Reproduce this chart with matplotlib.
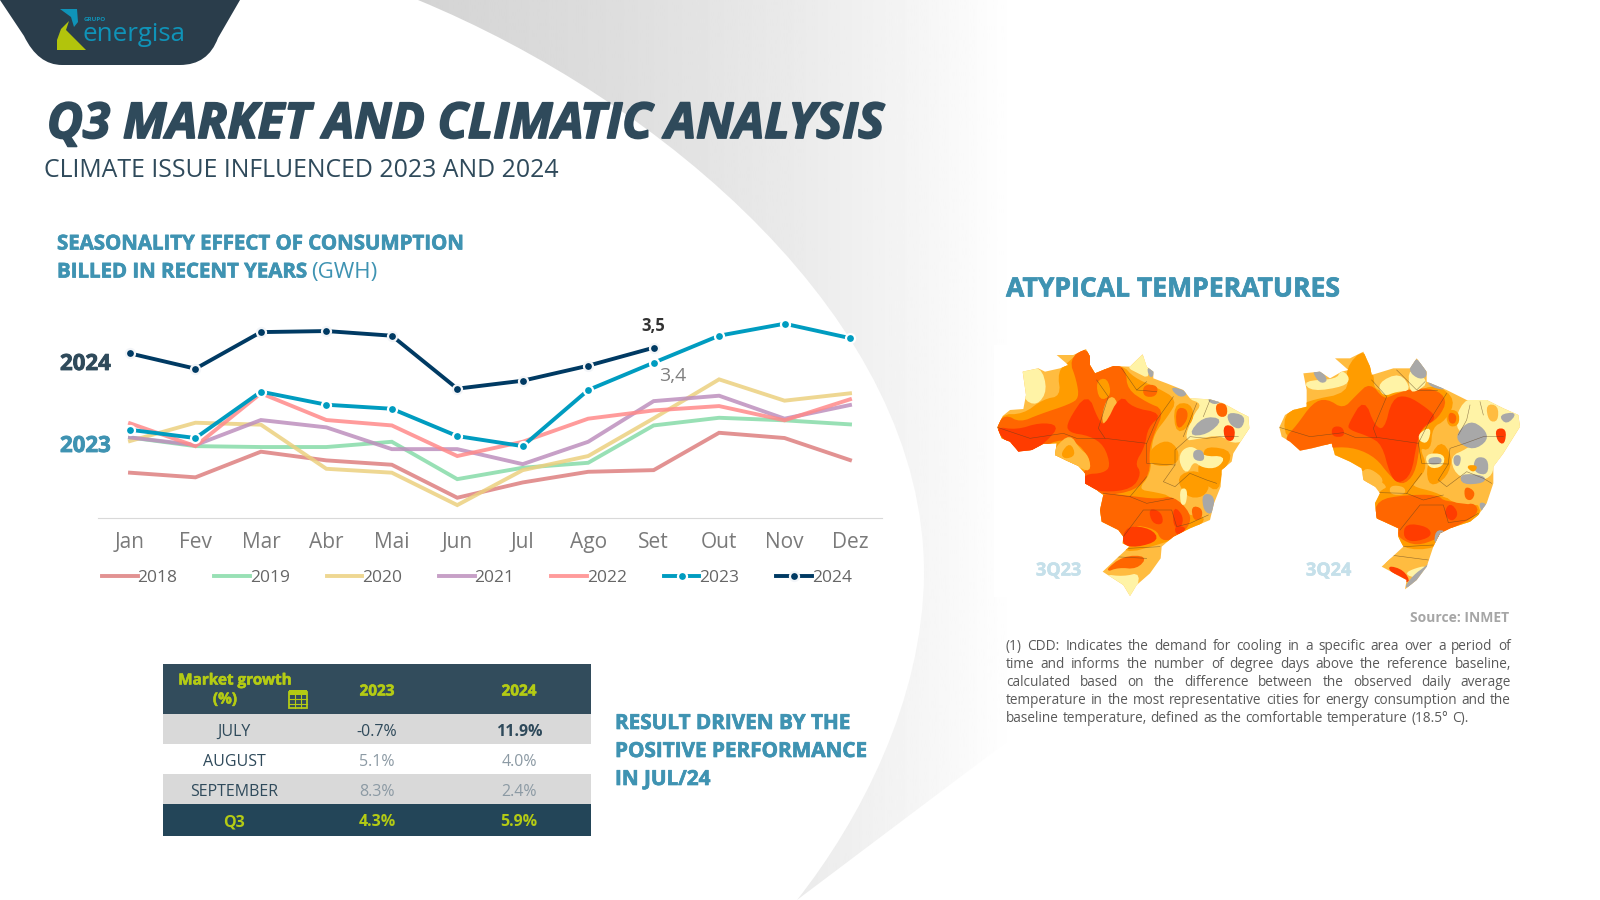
import matplotlib
matplotlib.use('Agg')
import numpy as np
import matplotlib.pyplot as plt
import matplotlib.patheffects as pe
from matplotlib.path import Path
from matplotlib.patches import PathPatch, Polygon, Rectangle

plt.rcParams['font.family'] = ['Open Sans', 'DejaVu Sans']

months = ['Jan', 'Fev', 'Mar', 'Abr', 'Mai', 'Jun', 'Jul', 'Ago', 'Set', 'Out', 'Nov', 'Dez']
y2018 = [2.667, 2.636, 2.807, 2.749, 2.72, 2.5, 2.602, 2.673, 2.684, 2.933, 2.898, 2.751]
y2019 = [2.902, 2.844, 2.838, 2.838, 2.873, 2.624, 2.7, 2.733, 2.982, 3.033, 3.016, 2.989]
y2020 = [2.878, 3.0, 2.987, 2.693, 2.667, 2.451, 2.684, 2.778, 3.029, 3.289, 3.147, 3.196]
y2021 = [2.902, 2.851, 3.018, 2.969, 2.824, 2.824, 2.724, 2.873, 3.144, 3.18, 3.027, 3.118]
y2022 = [2.996, 2.844, 3.196, 3.018, 2.982, 2.778, 2.873, 3.027, 3.082, 3.111, 3.016, 3.156]
y2023 = [2.953, 2.898, 3.207, 3.12, 3.093, 2.911, 2.844, 3.218, 3.4, 3.58, 3.66, 3.564]
y2024 = [3.462, 3.36, 3.604, 3.611, 3.58, 3.227, 3.28, 3.38, 3.5]

table_rows = ['JULY', 'AUGUST', 'SEPTEMBER', 'Q3']
growth_2023 = ['-0.7%', '5.1%', '8.3%', '4.3%']
growth_2024 = ['11.9%', '4.0%', '2.4%', '5.9%']

DARK = '#2f4a5b'
TEAL = '#3f93b2'
LIME = '#b4cb14'

fig = plt.figure(figsize=(16, 9), dpi=100)
bg = fig.add_axes([0, 0, 1, 1])
bg.set_xlim(0, 1600)
bg.set_ylim(900, 0)
bg.axis('off')


def label(x, y, s, size=12, color=DARK, weight='normal', ha='left', style='normal', z=6, heavy=0):
    t = bg.text(x, y + 2.5, s, fontsize=size, color=color, fontweight=weight, ha=ha, va='center',
                fontstyle=style, zorder=z)
    if heavy:
        t.set_path_effects([pe.withStroke(linewidth=heavy, foreground=color)])
    return t


# grey swoosh behind everything
codes = [Path.MOVETO, Path.CURVE4, Path.CURVE4, Path.CURVE4, Path.CURVE4, Path.CURVE4, Path.CURVE4,
         Path.LINETO, Path.LINETO, Path.CLOSEPOLY]
verts = [(418, 0), (660, 100), (925, 320), (924, 574), (923, 700), (860, 820), (797, 900),
         (1016, 735), (1016, 0), (418, 0)]
swoosh = PathPatch(Path(verts, codes), fc='none', ec='none', transform=bg.transData)
bg.add_patch(swoosh)
shade = np.interp(np.linspace(418, 1016, 300), [418, 620, 800, 930, 1016], [0.83, 0.87, 0.92, 0.965, 1.0])
im = bg.imshow(shade[None, :], extent=(418, 1016, 900, 0), cmap='gray', vmin=0, vmax=1, aspect='auto', zorder=1)
im.set_clip_path(swoosh)
bg.set_xlim(0, 1600)
bg.set_ylim(900, 0)

# logo tab
tab = [(Path.MOVETO, (0, 0)), (Path.LINETO, (24, 36)), (Path.CURVE3, (38, 65)), (Path.CURVE3, (62, 65)),
       (Path.LINETO, (180, 65)), (Path.CURVE3, (208, 65)), (Path.CURVE3, (218, 38)), (Path.LINETO, (240, 0)),
       (Path.CLOSEPOLY, (0, 0))]
bg.add_patch(PathPatch(Path([p[1] for p in tab], [p[0] for p in tab]), fc='#2a3d4b', ec='none', zorder=2))
bg.add_patch(Polygon([(60, 9), (77, 9), (78, 22), (74, 27), (71, 17)], fc='#0f93b8', ec='none', zorder=3))
bg.add_patch(Polygon([(69, 21), (61, 29), (57, 40), (57, 50), (86, 50), (72, 36), (66, 30)], fc='#b2c40c', ec='none', zorder=3))
label(84, 17, 'GRUPO', 4.5, '#0f93b8', 'bold')
label(82, 32, 'energisa', 18.6, '#0f93b8')

# headings
label(47, 123, 'Q3 MARKET AND CLIMATIC ANALYSIS', 35.5, DARK, 'bold', style='italic', heavy=1.3)
label(44, 168, 'CLIMATE ISSUE INFLUENCED 2023 AND 2024', 17.9, DARK)
label(57, 242, 'SEASONALITY EFFECT OF CONSUMPTION', 14.7, TEAL, 'bold', heavy=0.5)
label(57, 270, 'BILLED IN RECENT YEARS', 14.7, TEAL, 'bold', heavy=0.5)
label(311, 270, '(GWH)', 16, TEAL)
label(1006, 287, 'ATYPICAL TEMPERATURES', 19.1, TEAL, 'bold', heavy=0.5)
label(615, 721, 'RESULT DRIVEN BY THE', 14.9, TEAL, 'bold', heavy=0.5)
label(615, 749, 'POSITIVE PERFORMANCE', 14.9, TEAL, 'bold', heavy=0.5)
label(615, 777, 'IN JUL/24', 14.9, TEAL, 'bold', heavy=0.5)

# line chart
ax = fig.add_axes([98 / 1600, 1 - 518 / 900, (882 - 98) / 1600, (518 - 300) / 900])
ax.patch.set_alpha(0)
ax.set_zorder(5)
x = np.arange(12)
soft = [(y2018, '#dd7f7f', '2018'), (y2019, '#86dba8', '2019'), (y2020, '#ecd07f', '2020'),
        (y2021, '#bd8fbd', '2021'), (y2022, '#ff8a8a', '2022')]
for vals, col, name in soft:
    ax.plot(x, vals, color=col, lw=2.8, alpha=0.85, label=name, solid_joinstyle='miter')
ax.plot(x, y2023, color='#009cc0', lw=2.8, marker='o', ms=6.5, mec='white', mew=1.6, label='2023')
ax.plot(x[:9], y2024, color='#003a63', lw=2.8, marker='o', ms=6.5, mec='#f3f5f8', mew=1.6, label='2024')
ax.set_xlim(-32 / 65.45, 11 + 32 / 65.45)
ax.set_ylim(2.365, 3.818)
ax.set_xticks(x, months, fontsize=15, color='#7a7a7a')
ax.tick_params(axis='x', length=0, pad=10)
ax.set_yticks([])
for s in ['top', 'left', 'right']:
    ax.spines[s].set_visible(False)
ax.spines['bottom'].set_color('#d9d9d9')
ax.annotate('3,5', (8, 3.5), xytext=(0, 12), textcoords='offset points', ha='center', fontsize=12, fontweight='bold', color='#333333')
ax.annotate('3,4', (8, 3.4), xytext=(14, -13), textcoords='offset points', ha='center', fontsize=14, color='#808080')
ax.legend(loc='upper left', bbox_to_anchor=(0.005, -0.236), ncol=7, frameon=False, fontsize=12.5,
          labelcolor='#666666', handlelength=2.05, handletextpad=0.0, columnspacing=2.12, borderpad=0, borderaxespad=0)
label(60, 362, '2024', 16, DARK, 'bold', heavy=0.6)
label(60, 444, '2023', 16, TEAL, 'bold', heavy=0.6)

# growth table
bands = [(664, 714, '#324c5c'), (714, 744, '#d9d9d9'), (744, 774, 'white'), (774, 804, '#d9d9d9'), (804, 836, '#234558')]
for top, bot, col in bands:
    bg.add_patch(Rectangle((163, top), 428, bot - top, fc=col, ec='none', zorder=4))
label(235, 678, 'Market growth', 11, LIME, 'bold', 'center', heavy=0.4)
label(225, 697, '(%)', 11, LIME, 'bold', 'center', heavy=0.4)
label(377, 689, '2023', 11, LIME, 'bold', 'center', heavy=0.4)
label(519, 689, '2024', 11, LIME, 'bold', 'center', heavy=0.4)
bg.add_patch(Rectangle((288.5, 692), 18, 16, fc='none', ec=LIME, lw=1.3, zorder=6))
bg.add_patch(Rectangle((288.5, 690), 18, 5, fc=LIME, ec='none', zorder=6))
for xx in (294.5, 300.5):
    bg.plot([xx, xx], [695, 708], color=LIME, lw=0.8, zorder=6)
for yy in (699, 703.5):
    bg.plot([288.5, 306.5], [yy, yy], color=LIME, lw=0.8, zorder=6)
centers = [729, 759, 789, 820]
for i, cy in enumerate(centers):
    last = i == 3
    label(234, cy, table_rows[i], 11.5, LIME if last else DARK, 'bold' if last else 'normal', 'center')
    col = LIME if last else (DARK if i == 0 else '#8c9aa4')
    label(377, cy, growth_2023[i], 11.5, col, 'bold' if last else 'normal', 'center')
    label(519, cy, growth_2024[i], 11.5, col, 'bold' if last or i == 0 else 'normal', 'center')

# maps, hand traced blobs in crop coordinates (3x zoom of each map)
bg.add_patch(Rectangle((994, 345), 530, 252, fc='white', ec='none', zorder=2))
BASE, Y1, O1, D1, R1, G1 = '#ffbc40', '#fff3a6', '#ff9c00', '#ff6600', '#ff3c00', '#a8a8a8'

outline_23 = [(22, 262), (38, 228), (60, 210), (100, 207), (108, 165), (98, 95), (145, 85), (165, 95), (210, 85), (235, 75),
              (200, 45), (250, 45), (288, 27), (300, 50), (300, 75), (315, 100), (370, 78), (420, 80), (435, 65), (458, 43),
              (470, 80), (490, 95), (490, 115), (530, 130), (580, 150), (600, 175), (660, 178), (700, 190), (745, 215),
              (775, 230), (778, 265), (755, 300), (730, 340), (725, 365), (695, 390), (692, 440), (672, 490), (660, 540),
              (600, 565), (550, 590), (515, 620), (512, 655), (480, 700), (440, 735), (420, 768), (400, 735), (338, 695),
              (375, 660), (418, 620), (398, 610), (400, 590), (385, 570), (335, 545), (330, 510), (340, 465), (320, 450),
              (285, 430), (285, 400), (265, 378), (230, 362), (195, 345), (200, 310), (160, 312), (125, 330), (85, 335),
              (60, 305), (35, 295)]
layers_23 = [
    (O1, [(30, 225), (100, 225), (160, 180), (215, 170), (205, 95), (240, 65), (290, 20), (320, 95), (395, 75), (430, 115),
          (500, 145), (560, 180), (530, 230), (490, 280), (480, 340), (480, 400), (440, 450), (500, 460), (540, 470),
          (590, 530), (650, 530), (610, 575), (510, 610), (400, 640), (380, 580), (320, 550), (320, 460), (280, 440),
          (190, 350), (190, 300), (20, 310)]),
    (O1, [(480, 330), (530, 300), (565, 330), (560, 375), (480, 375)]),
    (O1, [(650, 320), (730, 335), (695, 400), (680, 460), (620, 400), (640, 350)]),
    (O1, [(560, 410), (620, 390), (660, 430), (640, 470), (590, 470)]),
    (D1, [(15, 265), (45, 225), (90, 250), (150, 225), (240, 195), (270, 175), (262, 120), (240, 60), (290, 20), (320, 100),
          (370, 70), (405, 90), (410, 150), (470, 190), (520, 210), (490, 280), (475, 330), (478, 400), (435, 450),
          (340, 465), (280, 435), (280, 395), (305, 385), (295, 345), (262, 305), (200, 295), (125, 340), (60, 315)]),
    (D1, [(335, 460), (420, 470), (500, 480), (550, 470), (600, 520), (595, 560), (550, 595), (515, 600), (500, 565),
          (420, 550), (395, 610), (380, 580), (325, 555), (320, 500)]),
    (D1, [(345, 695), (400, 650), (470, 650), (440, 685), (385, 680)]),
    (BASE, [(190, 350), (200, 320), (240, 285), (265, 325), (295, 350), (300, 395), (260, 375)]),
    (O1, [(215, 340), (240, 310), (255, 345), (225, 355)]),
    (BASE, [(335, 245), (350, 180), (375, 170), (390, 240), (360, 262)]),
    (O1, [(320, 125), (350, 115), (362, 165), (330, 180)]),
    (R1, [(15, 262), (80, 272), (150, 250), (205, 258), (170, 300), (125, 335), (85, 340), (55, 310)]),
    (R1, [(235, 245), (292, 160), (322, 240), (345, 262), (392, 165), (425, 205), (515, 222), (472, 260), (462, 320),
          (432, 370), (452, 400), (425, 445), (340, 455), (280, 435), (285, 405), (340, 402), (365, 380), (345, 315),
          (300, 285), (235, 275)]),
    (R1, [(412, 558), (482, 568), (505, 600), (440, 620), (395, 612)]),
    (R1, [(478, 506), (512, 518), (518, 552), (488, 548)]),
    (R1, [(552, 500), (578, 530), (572, 562), (552, 558)]),
    (R1, [(556, 558), (590, 565), (560, 585)]),
    (D1, [(606, 500), (634, 506), (634, 534), (612, 540)]),
    (Y1, [(90, 90), (150, 80), (170, 150), (140, 195), (100, 175)]),
    (Y1, [(432, 62), (460, 38), (480, 115), (440, 95), (415, 82)]),
    (Y1, [(590, 172), (660, 172), (745, 210), (785, 235), (775, 295), (730, 310), (690, 282), (620, 295), (585, 300),
          (610, 230), (640, 190)]),
    (Y1, [(578, 330), (610, 320), (640, 352), (705, 350), (682, 382), (640, 382), (610, 360), (590, 402), (568, 362)]),
    (Y1, [(340, 705), (400, 712), (452, 700), (425, 775), (395, 745)]),
    (Y1, [(572, 448), (590, 448), (586, 492), (574, 492)]),
    (O1, [(552, 195), (600, 190), (612, 240), (560, 285)]),
    (D1, [(560, 205), (590, 208), (590, 240), (562, 270)]),
    (G1, [(596, 285), (640, 232), (698, 238), (650, 282)]),
    (G1, [(712, 218), (765, 228), (752, 268), (720, 252)]),
    (G1, [(612, 332), (637, 332), (642, 362), (612, 358)]),
    (G1, [(638, 462), (672, 468), (667, 522), (643, 512)]),
    (G1, [(540, 140), (595, 158), (570, 172)]),
    (G1, [(472, 82), (495, 92), (482, 115)]),
    (G1, [(652, 176), (695, 184), (670, 192)]),
    (D1, [(678, 192), (708, 192), (710, 228), (684, 228)]),
    (R1, [(702, 256), (733, 262), (730, 302), (706, 298)]),
    (D1, [(462, 136), (502, 138), (497, 168), (462, 168)]),
]
lines_23 = [[(22, 262), (120, 295), (220, 280), (260, 295), (345, 295), (470, 310), (500, 240), (550, 170)],
            [(345, 295), (325, 265), (355, 170), (320, 120)],
            [(470, 310), (470, 370), (555, 375), (555, 330), (600, 290), (650, 295), (690, 290), (745, 290)],
            [(555, 375), (520, 425), (555, 440), (600, 400), (650, 420), (680, 430)],
            [(340, 460), (420, 470), (470, 490), (550, 475)], [(420, 470), (470, 410)],
            [(400, 590), (460, 510), (545, 510), (560, 560), (600, 550), (655, 525)],
            [(415, 625), (510, 620)], [(370, 650), (470, 655)], [(620, 190), (600, 240), (580, 290)],
            [(660, 180), (640, 230)], [(395, 85), (440, 150), (470, 125)], [(440, 150), (500, 155)]]

outline_24 = [(28, 262), (45, 225), (70, 210), (110, 200), (110, 150), (100, 100), (150, 95), (180, 115), (215, 95), (235, 90),
              (195, 55), (240, 55), (280, 35), (300, 80), (305, 105), (370, 85), (420, 85), (440, 55), (470, 95), (470, 125),
              (530, 150), (590, 180), (650, 180), (700, 205), (745, 225), (750, 260), (725, 300), (700, 340), (670, 380),
              (670, 430), (650, 490), (625, 525), (600, 545), (540, 565), (510, 580), (490, 620), (470, 680), (440, 720),
              (405, 748), (410, 720), (335, 680), (400, 620), (385, 590), (385, 565), (320, 535), (315, 490), (330, 460),
              (315, 440), (280, 420), (275, 385), (240, 365), (195, 345), (185, 310), (125, 325), (90, 332), (60, 305), (35, 290)]
layers_24 = [
    (O1, [(40, 225), (110, 185), (240, 160), (228, 85), (285, 25), (310, 110), (310, 150), (360, 160), (430, 160), (500, 135),
          (555, 180), (525, 240), (485, 260), (480, 330), (445, 320), (470, 380), (440, 420), (420, 440), (500, 460), (530, 480),
          (615, 480), (635, 530), (540, 575), (495, 625), (395, 625), (380, 570), (315, 540), (310, 490), (330, 455),
          (360, 440), (295, 395), (190, 355), (180, 305), (55, 310)]),
    (O1, [(510, 300), (545, 350), (530, 410), (480, 440), (470, 380)]),
    (D1, [(55, 285), (80, 260), (130, 190), (170, 178), (220, 210), (260, 168), (300, 130), (340, 180), (370, 168), (420, 148),
          (492, 148), (530, 180), (504, 232), (462, 258), (442, 290), (447, 322), (432, 402), (395, 435), (358, 402), (320, 352),
          (260, 322), (190, 318), (125, 335), (85, 340), (50, 305)]),
    (D1, [(325, 482), (400, 468), (500, 466), (525, 488), (612, 488), (625, 522), (540, 565), (500, 595), (440, 615),
          (392, 595), (380, 570), (312, 535)]),
    (R1, [(238, 252), (282, 178), (312, 260), (345, 272), (368, 178), (410, 168), (472, 208), (498, 235), (452, 262), (437, 312),
          (422, 402), (385, 430), (362, 402), (338, 312), (298, 287), (238, 267)]),
    (R1, [(188, 262), (216, 262), (222, 288), (188, 288)]),
    (R1, [(408, 552), (472, 562), (484, 588), (430, 604), (402, 592)]),
    (R1, [(540, 490), (564, 520), (546, 544), (524, 520)]),
    (R1, [(352, 678), (400, 692), (420, 730), (378, 708)]),
    (BASE, [(520, 422), (570, 400), (655, 430), (645, 495), (610, 492), (530, 482)]),
    (BASE, [(362, 438), (402, 442), (404, 462), (362, 462)]),
    (BASE, [(278, 392), (302, 388), (342, 420), (318, 445), (282, 425)]),
    (BASE, [(335, 682), (375, 645), (470, 640), (470, 680), (420, 660)]),
    (D1, [(586, 440), (614, 456), (604, 480), (586, 474)]),
    (D1, [(592, 492), (618, 496), (602, 520)]),
    (Y1, [(100, 125), (200, 120), (215, 92), (238, 115), (222, 137), (128, 152)]),
    (Y1, [(325, 130), (390, 100), (422, 150), (380, 152), (340, 168)]),
    (Y1, [(418, 82), (475, 125), (440, 152), (420, 152)]),
    (Y1, [(448, 282), (482, 262), (472, 308), (450, 302)]),
    (Y1, [(558, 232), (590, 176), (650, 176), (750, 222), (755, 262), (728, 302), (705, 342), (672, 372), (660, 412), (610, 422),
          (558, 402), (543, 350), (590, 330), (640, 290), (570, 282)]),
    (Y1, [(466, 343), (522, 343), (518, 378), (478, 384)]),
    (Y1, [(428, 690), (472, 678), (440, 712), (408, 702)]),
    (BASE, [(650, 195), (682, 198), (682, 242), (658, 242)]),
    (O1, [(530, 210), (565, 215), (565, 255), (535, 258)]),
    (D1, [(538, 218), (558, 226), (554, 250), (538, 246)]),
    (G1, [(562, 282), (600, 243), (642, 268), (652, 300), (610, 328), (568, 307)]),
    (G1, [(622, 352), (652, 358), (652, 402), (620, 398), (612, 375)]),
    (G1, [(572, 403), (642, 408), (642, 427), (578, 432)]),
    (G1, [(478, 355), (512, 353), (512, 370), (478, 372)]),
    (G1, [(553, 348), (572, 348), (566, 378), (553, 372)]),
    (G1, [(440, 50), (475, 102), (450, 118), (415, 90)]),
    (G1, [(128, 92), (152, 92), (172, 122), (150, 128)]),
    (G1, [(688, 226), (740, 218), (710, 252)]),
    (G1, [(400, 752), (430, 708), (472, 678), (495, 655), (472, 702)]),
    (G1, [(498, 572), (528, 575), (495, 618)]),
    (G1, [(628, 488), (650, 494), (640, 520)]),
    (G1, [(470, 122), (532, 148), (490, 142)]),
    (R1, [(678, 268), (707, 268), (702, 312), (684, 302)]),
    (O1, [(590, 378), (622, 378), (610, 396)]),
]
lines_24 = [[(28, 262), (120, 290), (220, 278), (255, 292), (320, 292), (445, 310), (480, 240), (530, 160)],
            [(320, 292), (310, 265), (350, 170), (305, 120)],
            [(445, 310), (455, 370), (535, 372), (540, 325), (585, 310), (640, 290), (700, 290)],
            [(535, 372), (505, 420), (530, 440), (590, 395), (640, 415), (665, 430)],
            [(330, 458), (410, 460), (460, 480), (520, 465)], [(410, 460), (455, 400)],
            [(390, 570), (450, 495), (520, 495), (535, 548), (590, 540), (625, 520)],
            [(400, 620), (490, 615)], [(360, 645), (475, 660)], [(600, 195), (590, 240), (565, 285)],
            [(630, 185), (640, 225)], [(380, 90), (440, 150), (465, 125)], [(440, 150), (500, 150)]]


def smooth(pts, rounds=2):
    pts = np.array(pts, float)
    for _ in range(rounds):
        nxt = np.roll(pts, -1, axis=0)
        pts = np.column_stack([0.75 * pts + 0.25 * nxt, 0.25 * pts + 0.75 * nxt]).reshape(-1, 2)
    return pts


def draw_map(x0, y0, outline, layers, lines):
    place = lambda p: np.array(p, float) / 3 + [x0, y0]
    shape = Polygon(place(outline), fc=BASE, ec='none', zorder=3)
    bg.add_patch(shape)
    for col, pts in layers:
        # edge stroke wins back what the corner cutting shaves off
        blob = Polygon(place(smooth(pts)), fc=col, ec=col, lw=1.2, zorder=3)
        bg.add_patch(blob)
        blob.set_clip_path(shape)
    for line in lines:
        l, = bg.plot(*place(line).T, color='#5c4020', lw=0.4, alpha=0.65, zorder=3)
        l.set_clip_path(shape)


draw_map(990, 340, outline_23, layers_23, lines_23)
draw_map(1270, 340, outline_24, layers_24, lines_24)
label(1036, 568, '3Q23', 13, '#c5e0ea', 'bold', z=7, heavy=0.4)
label(1306, 568, '3Q24', 13, '#c5e0ea', 'bold', z=7, heavy=0.4)

label(1509, 615, 'Source: INMET', 10, '#a6a6a6', 'bold', 'right')

# justified footnote, word by word
note_lines = ['(1) CDD: Indicates the demand for cooling in a specific area over a period of',
              'time and informs the number of degree days above the reference baseline,',
              'calculated based on the difference between the observed daily average',
              'temperature in the most representative cities for energy consumption and the',
              'baseline temperature, defined as the comfortable temperature (18.5° C).']
fig.canvas.draw()
rend = fig.canvas.get_renderer()
for n, line in enumerate(note_lines):
    yy = 644 + 18 * n
    words = line.split(' ')
    items = [label(0, yy, w, 9.8, '#595959') for w in words]
    widths = [it.get_window_extent(rend).width for it in items]
    gap = (1511 - 1006 - sum(widths)) / (len(words) - 1) if n < 4 else 3.8
    xx = 1006
    for it, w in zip(items, widths):
        it.set_x(xx)
        xx += w + gap

fig.savefig('out.png', dpi=100)
